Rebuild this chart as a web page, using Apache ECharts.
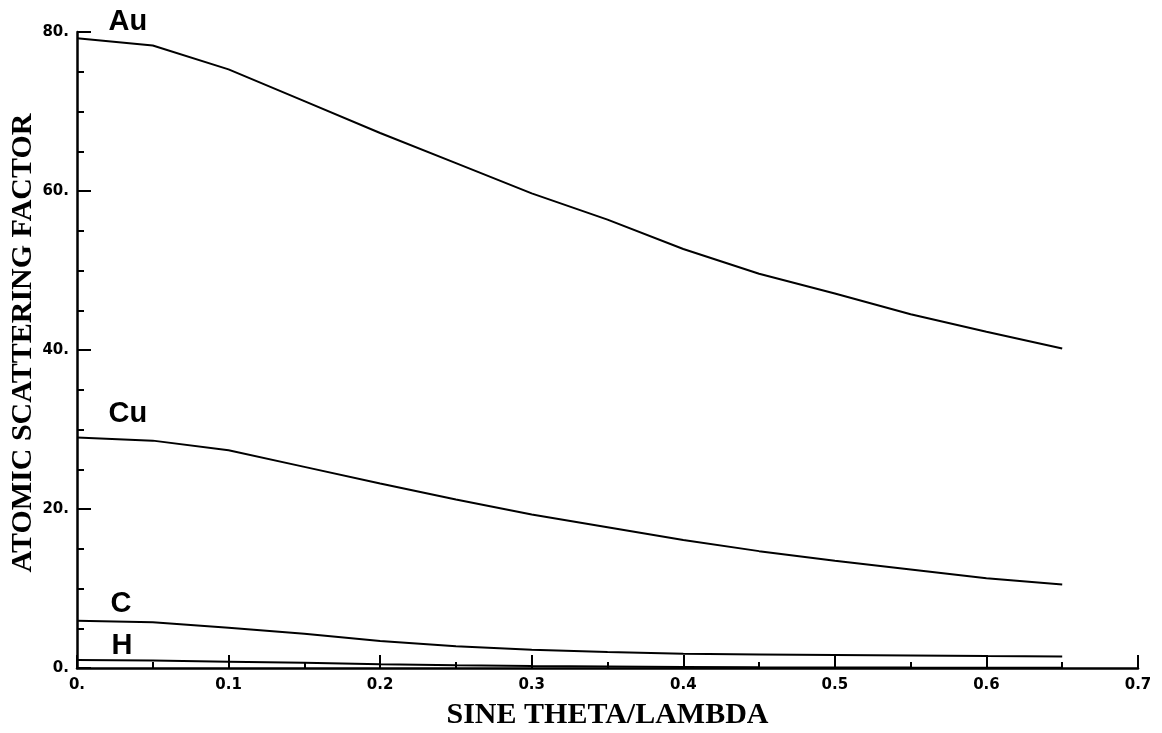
<!DOCTYPE html>
<html>
<head>
<meta charset="utf-8">
<script src="https://cdn.jsdelivr.net/npm/echarts@6/dist/echarts.min.js"></script>
<style>
  html, body { margin: 0; padding: 0; background: #fff; }
  #chart { width: 1162px; height: 733px; }
</style>
</head>
<body>
<div id="chart"></div>
<script>
// sin(theta)/lambda sample points
const sineThetaLambda = [0, 0.05, 0.1, 0.15, 0.2, 0.25, 0.3, 0.35, 0.4, 0.45, 0.5, 0.55, 0.6, 0.65]

// scattering factors
const au = [79.2, 78.3, 75.3, 71.3, 67.3, 63.5, 59.7, 56.4, 52.7, 49.6, 47.1, 44.5, 42.3, 40.2]
const cu = [29.0, 28.6, 27.4, 25.3, 23.2, 21.2, 19.3, 17.7, 16.1, 14.7, 13.5, 12.4, 11.3, 10.5]
const c = [5.95, 5.75, 5.05, 4.3, 3.4, 2.75, 2.3, 2.0, 1.8, 1.7, 1.62, 1.56, 1.5, 1.46]
const h = [1.0, 0.93, 0.8, 0.65, 0.48, 0.35, 0.25, 0.18, 0.13, 0.09, 0.07, 0.05, 0.04, 0.03]

const xTicks = ['0.', '0.1', '0.2', '0.3', '0.4', '0.5', '0.6', '0.7']
const yTicks = ['0.', '20.', '40.', '60.', '80.']

// label anchor for each curve: [x, y, offsetY]
const curveLabels = {
    Au: [0.0336, 78, -26],
    Cu: [0.0336, 31.9, 0],
    C: [0.029, 8.0, 0],
    H: [0.0297, 2.8, 0]
}

const chart = echarts.init(document.getElementById('chart'))

const makeSeries = (name, values) => {
    const lbl = curveLabels[name]
    return {
        name,
        type: 'line',
        data: values.map((v, i) => [sineThetaLambda[i], v]),
        showSymbol: false,
        smooth: false,
        lineStyle: { color: '#000', width: 2 },
        silent: true,
        markPoint: {
            symbol: 'circle',
            symbolSize: 0,
            data: [{ coord: [lbl[0], lbl[1]] }],
            label: {
                show: true,
                position: 'inside',
                offset: [0, lbl[2]],
                formatter: name,
                color: '#000',
                fontFamily: 'Liberation Sans',
                fontWeight: 'bold',
                fontSize: 29
            }
        }
    }
}

const axisFont = {
    color: '#000',
    fontFamily: 'DejaVu Sans',
    fontWeight: 'bold',
    fontSize: 15
}

const nameFont = {
    color: '#000',
    fontFamily: 'Liberation Serif',
    fontWeight: 'bold',
    fontSize: 30
}

const option = {
    animation: false,
    backgroundColor: '#fff',
    grid: {
        left: 77,
        right: 24,
        top: 32,
        bottom: 65,
        containLabel: false,
        outerBoundsMode: 'none'
    },
    xAxis: {
        type: 'value',
        min: 0,
        max: 0.7,
        interval: 0.1,
        name: 'SINE THETA/LAMBDA',
        nameLocation: 'middle',
        nameGap: 32,
        nameMoveOverlap: false,
        nameTextStyle: nameFont,
        axisLine: { show: true, onZero: false, lineStyle: { color: '#000', width: 2.5 } },
        axisTick: { show: true, inside: true, length: 13, lineStyle: { color: '#000', width: 2 } },
        minorTick: { show: true, splitNumber: 2, length: 6, lineStyle: { color: '#000', width: 2 } },
        splitLine: { show: false },
        axisLabel: {
            ...axisFont,
            margin: 10,
            formatter: v => xTicks[Math.round(v * 10)]
        }
    },
    yAxis: {
        type: 'value',
        min: 0,
        max: 80,
        interval: 20,
        name: 'ATOMIC SCATTERING FACTOR',
        nameLocation: 'middle',
        nameGap: 39,
        nameMoveOverlap: false,
        nameTextStyle: { ...nameFont, padding: [0, 0, 0, 14] },
        axisLine: { show: true, onZero: false, lineStyle: { color: '#000', width: 2.5 } },
        axisTick: { show: true, inside: true, length: 14, lineStyle: { color: '#000', width: 2 } },
        minorTick: { show: true, splitNumber: 4, length: 7, lineStyle: { color: '#000', width: 2 } },
        splitLine: { show: false },
        axisLabel: {
            ...axisFont,
            margin: 8,
            formatter: v => yTicks[Math.round(v / 20)]
        }
    },
    series: [
        makeSeries('Au', au),
        makeSeries('Cu', cu),
        makeSeries('C', c),
        makeSeries('H', h)
    ]
}

chart.setOption(option)
</script>
</body>
</html>
